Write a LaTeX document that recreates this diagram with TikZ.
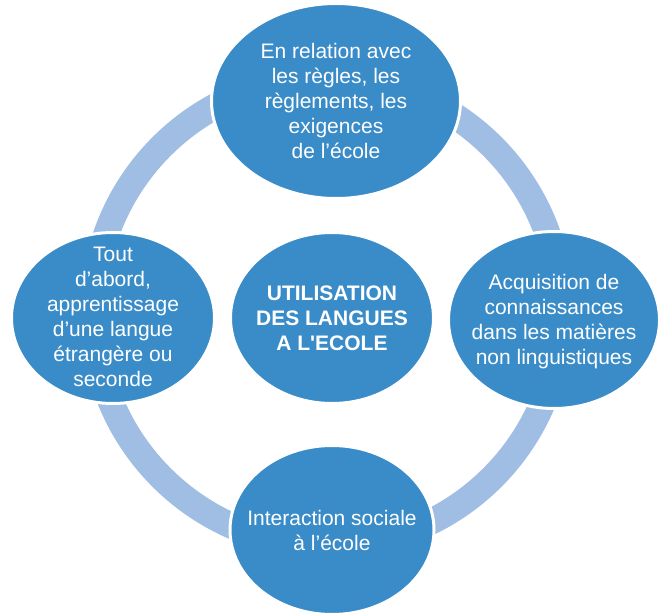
\documentclass[tikz,border=0pt]{standalone}
\usepackage{fontspec}
\setmainfont{Liberation Sans}
% a family without TeX quote mapping, so ' stays a straight apostrophe
\newfontfamily\headfont{Liberation Sans}
\usetikzlibrary{shapes.geometric}
\definecolor{bubbleblue}{RGB}{58,140,200}
\definecolor{ringblue}{RGB}{160,190,227}
\tikzset{
  bubble/.style={ellipse, fill=bubbleblue, draw=white, line width=3pt, inner sep=0pt},
  bubbletext/.style={text=white, align=center, inner sep=0pt,
    font=\fontsize{21}{25}\selectfont},
  ring/.style={draw=ringblue, line width=26pt}
}
\begin{document}
\begin{tikzpicture}[x=1pt,y=1pt]
  \useasboundingbox (0,0) rectangle (660,613);
  % the circular band joining the four outer bubbles
  \coordinate (hub) at (327,301);
  \draw[ring] (hub) circle[radius=234];
  % bubbles
  \node[bubble, minimum width=249pt, minimum height=195pt] (top) at (336,512) {};
  \node[bubble, minimum width=203pt, minimum height=171pt] (left) at (113,295) {};
  \node[bubble, minimum width=211pt, minimum height=177pt] (right) at (554,293) {};
  \node[bubble, minimum width=204pt, minimum height=169pt] (bottom) at (332,83) {};
  \node[bubble, minimum width=203pt, minimum height=171pt] (centre) at (332,295) {};
  % texts
  \node[bubbletext] (top-t) at (top) {En relation avec\\les règles, les\\règlements, les\\exigences\\de l’école};
  \node[bubbletext] (left-t) at ([yshift=1pt]left) {Tout\\d’abord,\\apprentissage\\d’une langue\\étrangère ou\\seconde};
  \node[bubbletext] (right-t) at ([yshift=-2pt]right) {Acquisition de\\connaissances\\dans les matières\\non linguistiques};
  \node[bubbletext] (bottom-t) at (bottom) {Interaction sociale\\à l’école};
  \node[bubbletext, font=\headfont\bfseries\fontsize{21}{25}\selectfont] (centre-t) at (centre) {UTILISATION\\DES LANGUES\\A L'ECOLE};
\end{tikzpicture}
\end{document}
